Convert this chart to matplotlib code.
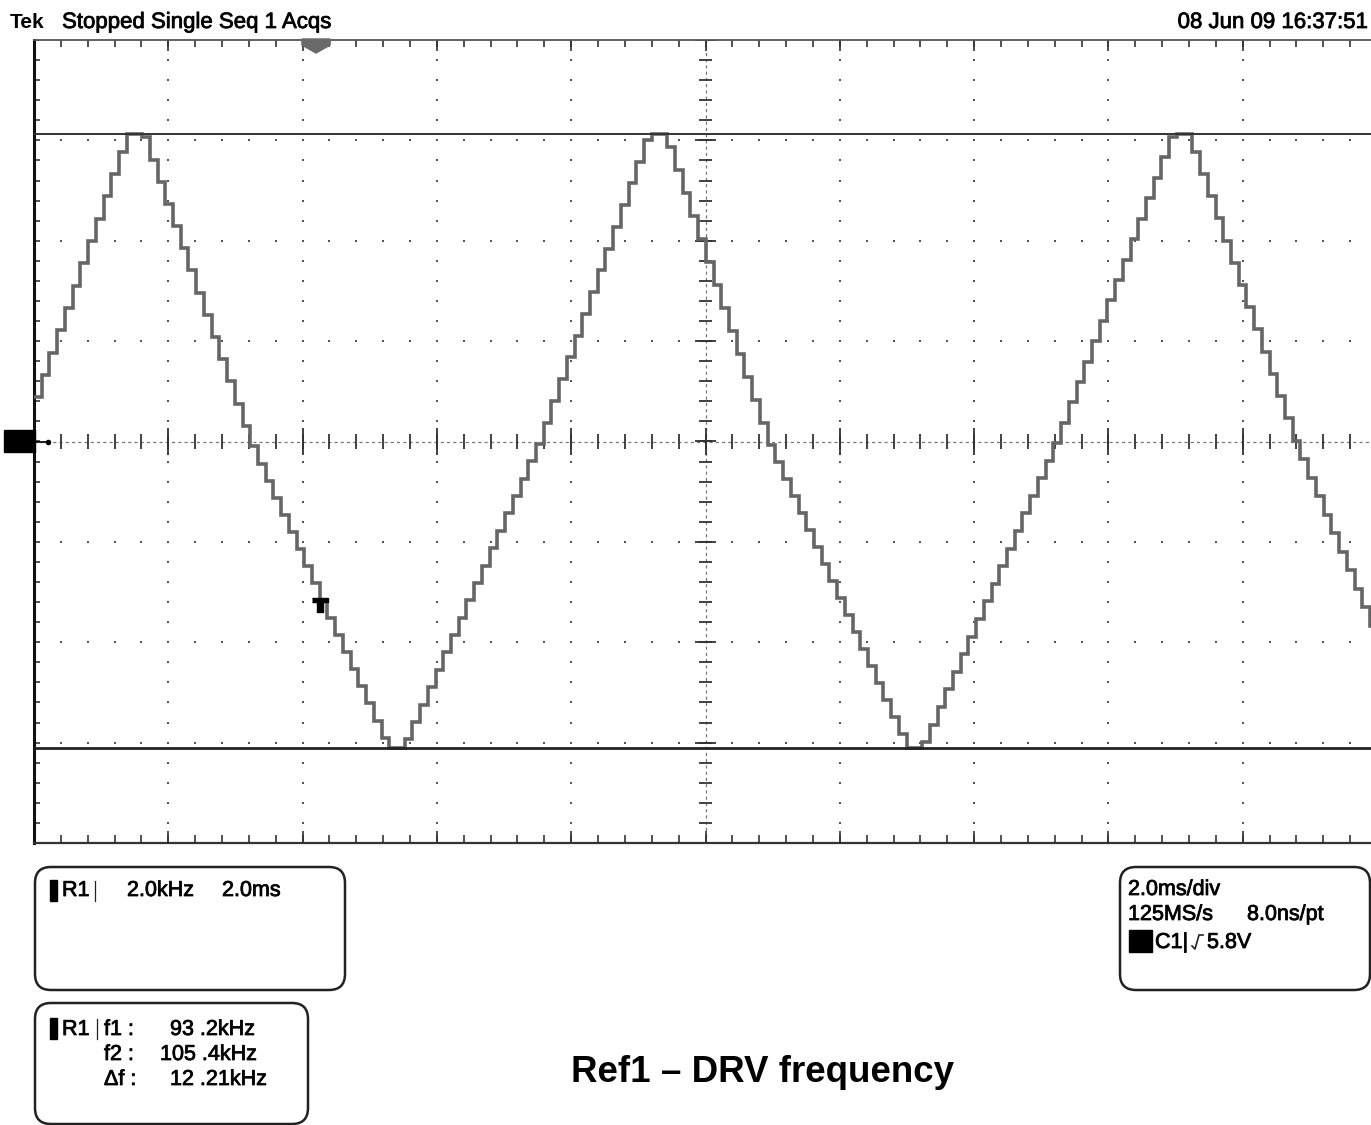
"""
Tek scope capture: R1 reference trace (DRV frequency sweep)
"""

import numpy as np
import matplotlib.pyplot as plt
import matplotlib.patheffects as pe
from matplotlib.patches import Polygon, FancyBboxPatch, Rectangle
from matplotlib.lines import Line2D
from matplotlib.transforms import Affine2D

plt.rcParams['font.family'] = ['Liberation Sans', 'DejaVu Sans']

W, H = 1371, 1125

# corner points of the stepped triangle sweep (time in ms, level in divisions)
t_corner = [0.0, 1.355, 1.594, 3.187, 5.242, 5.465, 7.491, 9.114, 9.367,
            10.90, 12.97, 13.19, 15.19, 16.92, 17.16, 18.75, 19.91]
v_corner = [0.44, 3.06, 3.06, 0.0, -3.05, -3.05, 0.0, 3.06, 3.06,
            0.0, -3.05, -3.05, 0.0, 3.06, 3.06, 0.0, -1.86]
hold_ms = 0.115          # DAC update period -> staircase width

cursor_hi = 3.06
cursor_lo = -3.05
ms_per_div = 2.0
n_xdiv, n_ydiv = 10, 8
trig_t, trig_v = 4.26, -1.64
trig_pos_t = 4.2

header_left = 'Stopped Single Seq 1 Acqs'
header_date = '08 Jun 09 16:37:51'
r1_scale = ['2.0kHz', '2.0ms']
r1_labels = ['f1 :', 'f2 :', 'Δf :']
r1_values = ['93 .2kHz', '105 .4kHz', '12 .21kHz']
horiz_info = ['2.0ms/div', '125MS/s', '8.0ns/pt']
trig_info = ['C1|', '5.8V']
caption = 'Ref1 – DRV frequency'

fig = plt.figure(figsize=(W / 100, H / 100), dpi=100)
fig.patch.set_facecolor('white')
px = Affine2D().scale(1 / W, -1 / H).translate(0, 1) + fig.transFigure
heavy = [pe.withStroke(linewidth=0.6, foreground='#111111')]

# graticule: 34..1377 px wide, 40..843 px tall
ax = fig.add_axes([34 / W, 1 - 843 / H, 1343 / W, 803 / H])
xmax = n_xdiv * ms_per_div
ax.set_xlim(0, xmax)
ax.set_ylim(-n_ydiv / 2, n_ydiv / 2)
ax.set_xticks([])
ax.set_yticks([])
ax.spines['left'].set_linewidth(2.2)
ax.spines['left'].set_color('#111111')
ax.spines['top'].set_linewidth(1.3)
ax.spines['top'].set_color('#555555')
ax.spines['bottom'].set_linewidth(1.6)
ax.spines['bottom'].set_color('#333333')
ax.spines['right'].set_visible(False)

sub_x = np.arange(0, xmax + 0.01, ms_per_div / 5)
sub_y = np.arange(-4, 4.01, 0.2)
maj_x = np.arange(ms_per_div, xmax, ms_per_div)
maj_y = np.arange(-3, 4, 1)
mid_x = xmax / 2
dot_kw = dict(ls='none', marker='s', ms=1.5, color='#555555', mew=0)

for xm in maj_x:
    if np.isclose(xm, mid_x):
        continue
    ax.plot(np.full_like(sub_y, xm), sub_y, **dot_kw)
for ym in maj_y:
    if ym == 0:
        continue
    ax.plot(sub_x, np.full_like(sub_x, ym), **dot_kw)

# centre cross with fine ticks
ax.axhline(0, color='#777777', lw=0.9, ls=(0, (2.5, 2.5)))
ax.axvline(mid_x, color='#777777', lw=0.9, ls=(0, (2.5, 2.5)))
is_maj_x = np.isclose(sub_x % ms_per_div, 0) | np.isclose(sub_x % ms_per_div, ms_per_div)
is_maj_y = np.isclose(sub_y % 1, 0) | np.isclose(sub_y % 1, 1)
ax.vlines(sub_x, -0.075, 0.075, color='#333333', lw=1.3)
ax.vlines(sub_x[is_maj_x], -0.13, 0.13, color='#333333', lw=1.3)
ax.hlines(sub_y, mid_x - 0.09, mid_x + 0.09, color='#333333', lw=1.3)
ax.hlines(sub_y[is_maj_y], mid_x - 0.15, mid_x + 0.15, color='#333333', lw=1.3)

# border ticks
ax.vlines(sub_x, 4 - 0.07, 4, color='#333333', lw=1.2)
ax.vlines(sub_x[is_maj_x], 4 - 0.11, 4, color='#333333', lw=1.2)
ax.vlines(sub_x, -4, -4 + 0.08, color='#333333', lw=1.2)
ax.vlines(sub_x[is_maj_x], -4, -4 + 0.12, color='#333333', lw=1.2)
ax.hlines(sub_y, 0, 0.09, color='#333333', lw=1.2)

# stepped reference trace
t_s = np.arange(0, t_corner[-1] + hold_ms, hold_ms)
v_s = np.interp(t_s, t_corner, v_corner)
ax.plot(t_s, v_s, drawstyle='steps-post', color='#666666', lw=2.6,
        solid_joinstyle='miter', zorder=3)

# cursors
ax.axhline(cursor_hi, color='#333333', lw=1.4, zorder=4)
ax.axhline(cursor_lo, color='#222222', lw=2.0, zorder=4)

# trigger level marker on the trace
t_marker = [(-1, 1), (1, 1), (1, 0.45), (0.4, 0.45), (0.4, -0.7),
            (-0.4, -0.7), (-0.4, 0.45), (-1, 0.45)]
ax.plot(trig_t, trig_v, marker=t_marker, ms=12, color='black', zorder=5)

# trigger position marker on top edge
ax.add_patch(Polygon([(trig_pos_t - 0.21, 4.01), (trig_pos_t + 0.21, 4.01),
                      (trig_pos_t + 0.21, 3.95), (trig_pos_t, 3.87),
                      (trig_pos_t - 0.21, 3.95)],
                     closed=True, color='#6a6a6a', clip_on=False, zorder=6))

# channel ground marker
fig.add_artist(Rectangle((4, 430), 31, 22, transform=px, color='black'))
fig.add_artist(Line2D([35, 48], [441.5, 441.5], transform=px, color='black', lw=1.2))
fig.add_artist(Line2D([48], [441.5], transform=px, color='black', marker='o', ms=3))

# header
fig.text(10, 28, 'Tek', transform=px, fontsize=15, fontweight='bold')
fig.text(62, 28, header_left, transform=px, fontsize=16, path_effects=heavy)
fig.text(1368, 28, header_date, transform=px, fontsize=16, ha='right',
         path_effects=heavy)

# readout boxes
box_kw = dict(boxstyle='round,pad=0,rounding_size=16', transform=px,
              fill=False, lw=1.8, ec='#222222')
fig.add_artist(FancyBboxPatch((35, 867), 310, 123, **box_kw))
fig.add_artist(FancyBboxPatch((35, 1003), 273, 121, **box_kw))
fig.add_artist(FancyBboxPatch((1120, 867), 250, 123, **box_kw))

fs = 15.5
txt = dict(transform=px, fontsize=fs, path_effects=heavy)
# R1 scale box
fig.add_artist(Rectangle((50, 880), 7, 21, transform=px, color='black'))
fig.text(62, 896, 'R1', **txt)
fig.add_artist(Line2D([95, 95], [881, 901], transform=px, color='#222222', lw=0.9))
fig.text(127, 896, r1_scale[0], **txt)
fig.text(222, 896, r1_scale[1], **txt)

# R1 cursor box
fig.add_artist(Rectangle((50, 1018), 7, 21, transform=px, color='black'))
fig.text(62, 1035, 'R1', **txt)
fig.add_artist(Line2D([97, 97], [1019, 1039], transform=px, color='#222222', lw=0.9))
row_x = [170, 160, 170]
for i, (lab, val) in enumerate(zip(r1_labels, r1_values)):
    yb = 1035 + 25 * i
    fig.text(104, yb, lab, **txt)
    fig.text(row_x[i], yb, val, **txt)

# horizontal / trigger box
fig.text(1128, 895, horiz_info[0], **txt)
fig.text(1128, 920, horiz_info[1], **txt)
fig.text(1247, 920, horiz_info[2], **txt)
fig.add_artist(Rectangle((1129, 930), 23, 22, transform=px, color='black'))
fig.text(1155, 948, trig_info[0], **txt)
fig.add_artist(Line2D([1192, 1195, 1199, 1203], [946, 949, 935, 935],
                      transform=px, color='#222222', lw=1.2))
fig.text(1207, 948, trig_info[1], **txt)

fig.text(763, 1082, caption, transform=px, fontsize=26.5, fontweight='bold', ha='center')

plt.savefig('out.png', dpi=100)
